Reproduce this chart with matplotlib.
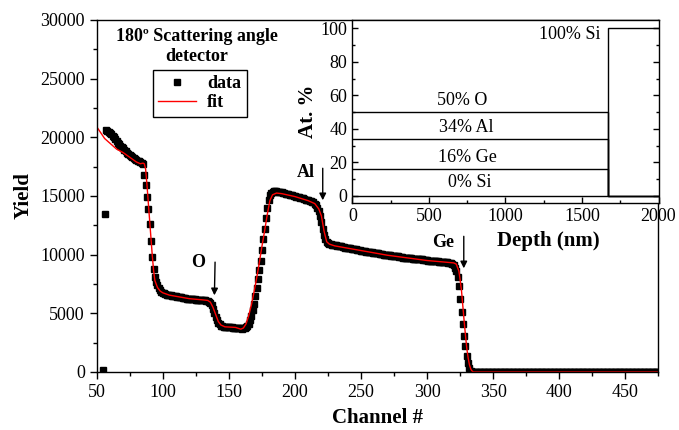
import numpy as np
from matplotlib import pyplot as plt
from matplotlib.ticker import MultipleLocator

plt.rcParams['font.family'] = ['Liberation Serif', 'DejaVu Serif']

# RBS spectrum, one value per channel from 55 to 475
data_yield = [
    200, 13500, 20600, 20550, 20450, 20350, 20250, 20150, 20000, 19850,
    19700, 19550, 19400, 19300, 19150, 19050, 18950, 18850, 18700, 18600,
    18500, 18400, 18300, 18200, 18150, 18100, 18000, 17950, 17900, 17850,
    17700, 16800, 15900, 14900, 13900, 12600, 11200, 9800, 8800, 8100,
    7700, 7400, 7150, 6950, 6850, 6750, 6700, 6650, 6600, 6600,
    6550, 6550, 6500, 6500, 6450, 6450, 6400, 6400, 6350, 6350,
    6300, 6300, 6300, 6250, 6250, 6250, 6200, 6200, 6200, 6200,
    6150, 6150, 6150, 6150, 6100, 6100, 6100, 6100, 6050, 6050,
    6000, 5900, 5700, 5400, 5050, 4700, 4400, 4200, 4050, 3950,
    3900, 3850, 3850, 3800, 3800, 3800, 3800, 3800, 3750, 3750,
    3750, 3750, 3750, 3750, 3750, 3700, 3750, 3750, 3800, 3900,
    4100, 4400, 4800, 5250, 5800, 6500, 7200, 7900, 8700, 9500,
    10400, 11300, 12200, 13100, 14000, 14700, 15050, 15250, 15350, 15400,
    15400, 15400, 15350, 15350, 15300, 15300, 15250, 15250, 15200, 15200,
    15150, 15100, 15100, 15050, 15000, 15000, 14950, 14950, 14900, 14850,
    14850, 14800, 14750, 14700, 14700, 14650, 14600, 14550, 14500, 14450,
    14350, 14200, 14000, 13700, 13300, 12800, 12200, 11700, 11300, 11100,
    11000, 10950, 10900, 10850, 10850, 10800, 10800, 10750, 10750, 10700,
    10700, 10650, 10650, 10600, 10600, 10600, 10550, 10550, 10500, 10500,
    10450, 10450, 10400, 10400, 10400, 10350, 10350, 10300, 10300, 10250,
    10250, 10250, 10200, 10200, 10150, 10150, 10150, 10100, 10100, 10050,
    10050, 10050, 10000, 10000, 10000, 9950, 9950, 9950, 9900, 9900,
    9900, 9850, 9850, 9850, 9800, 9800, 9800, 9750, 9750, 9750,
    9700, 9700, 9700, 9700, 9650, 9650, 9650, 9650, 9600, 9600,
    9600, 9600, 9550, 9550, 9550, 9550, 9500, 9500, 9500, 9500,
    9450, 9450, 9450, 9450, 9400, 9400, 9400, 9400, 9350, 9350,
    9350, 9300, 9300, 9250, 9200, 9100, 8900, 8600, 8100, 7300,
    6200, 5100, 4100, 3100, 2200, 1400, 800, 300, 100,
    0, 0, 0, 0, 0, 0, 0, 0, 0, 0, 0, 0, 0, 0, 0, 0, 0, 0, 0, 0,
    0, 0, 0, 0, 0, 0, 0, 0, 0, 0, 0, 0, 0, 0, 0, 0, 0, 0, 0, 0,
    0, 0, 0, 0, 0, 0, 0, 0, 0, 0, 0, 0, 0, 0, 0, 0, 0, 0, 0, 0,
    0, 0, 0, 0, 0, 0, 0, 0, 0, 0, 0, 0, 0, 0, 0, 0, 0, 0, 0, 0,
    0, 0, 0, 0, 0, 0, 0, 0, 0, 0, 0, 0, 0, 0, 0, 0, 0, 0, 0, 0,
    0, 0, 0, 0, 0, 0, 0, 0, 0, 0, 0, 0, 0, 0, 0, 0, 0, 0, 0, 0,
    0, 0, 0, 0, 0, 0, 0, 0, 0, 0, 0, 0, 0, 0, 0, 0, 0, 0, 0, 0,
    0, 0,
]
data_channel = np.arange(55, 55 + len(data_yield))

# simulated fit
fit_channel = [50, 53, 56, 60, 65, 70, 75, 80, 83, 85, 86, 87, 88, 89, 90,
               91, 92, 93, 94, 96, 98, 100, 105, 110, 120, 130, 134, 136, 138,
               140, 142, 144, 147, 155, 159, 161, 163, 165, 167, 169, 171, 173,
               175, 177, 179, 181, 183, 186, 190, 200, 210, 215, 218, 220, 222,
               224, 226, 230, 240, 250, 260, 270, 280, 290, 300, 310, 320, 322,
               324, 325, 326, 327, 328, 329, 330, 331, 332, 333, 334, 335, 475]
fit_yield = [20900, 20400, 19900, 19500, 19000, 18700, 18300, 17900, 17750,
             17800, 17750, 17300, 16000, 14500, 13000, 11500, 10000, 8700, 7800,
             7200, 6900, 6750, 6550, 6450, 6250, 6150, 6100, 5950, 5500, 4900,
             4300, 4000, 3850, 3800, 3650, 3750, 4100, 4800, 5700, 6800, 8000,
             9300, 10700, 12000, 13400, 14600, 15100, 15250, 15200, 14950, 14600,
             14350, 13900, 13300, 12000, 11100, 10900, 10750, 10550, 10350,
             10150, 9950, 9800, 9650, 9500, 9400, 9300, 9200, 8600, 7800, 6900,
             5600, 4300, 3100, 2000, 1200, 600, 250, 80, 0, 0]

# inset: depth profile
depth_edges = [0, 1670, 2000]
layer_O = [50, 0]
layer_Al = [34, 0]
layer_Ge = [16, 0]
layer_Si = [0, 100]

fig = plt.figure(figsize=(6.79, 4.30), dpi=100)
ax = fig.add_axes([0.1424, 0.1349, 0.8274, 0.8186])

ax.plot(data_channel, data_yield, 's', color='black', markersize=4.6, label='data')
ax.plot(fit_channel, fit_yield, color='red', lw=1, label='fit')

ax.set_xlim(50, 475)
ax.set_ylim(0, 30000)
ax.xaxis.set_major_locator(MultipleLocator(50))
ax.xaxis.set_minor_locator(MultipleLocator(25))
ax.yaxis.set_major_locator(MultipleLocator(5000))
ax.yaxis.set_minor_locator(MultipleLocator(2500))
ax.tick_params(which='both', direction='out', labelsize=13, width=1)
ax.tick_params(which='major', length=5)
ax.tick_params(which='minor', length=3)
for s in ax.spines.values():
    s.set_linewidth(1)
ax.set_xlabel('Channel #', fontsize=15, fontweight='bold', labelpad=5)
ax.set_ylabel('Yield', fontsize=15, fontweight='bold', labelpad=5)

ax.text(126, 27750, '180º Scattering angle\ndetector', ha='center', va='center',
        fontsize=13, fontweight='bold', multialignment='center')
ax.legend(loc='upper left', bbox_to_anchor=(0.2253, 0.8372), bbox_transform=fig.transFigure,
          borderaxespad=0, frameon=True, fancybox=False, edgecolor='black',
          prop={'size': 13, 'weight': 'bold'}, handlelength=2.1, handletextpad=0.6,
          labelspacing=0.1, borderpad=0.3, framealpha=1)

arrow = dict(arrowstyle='-|>', color='black', lw=1, mutation_scale=10)
ax.text(127, 9300, 'O', fontsize=13, fontweight='bold', ha='center', va='center')
ax.annotate('', xy=(139, 6300), xytext=(139.6, 9600), arrowprops=arrow)
ax.text(208, 17000, 'Al', fontsize=13, fontweight='bold', ha='center', va='center')
ax.annotate('', xy=(221, 14400), xytext=(221, 17600), arrowprops=arrow)
ax.text(312, 11050, 'Ge', fontsize=13, fontweight='bold', ha='center', va='center')
ax.annotate('', xy=(327.7, 8600), xytext=(327.7, 11800), arrowprops=arrow)

# inset
ins = fig.add_axes([0.5189, 0.5272, 0.4510, 0.4263])
for layer in [layer_O, layer_Al, layer_Ge, layer_Si]:
    ins.stairs(layer, depth_edges, baseline=None, color='black', lw=1)
ins.set_xlim(0, 2000)
ins.set_ylim(-4.5, 105)
ins.xaxis.set_major_locator(MultipleLocator(500))
ins.xaxis.set_minor_locator(MultipleLocator(250))
ins.yaxis.set_major_locator(MultipleLocator(20))
ins.yaxis.set_minor_locator(MultipleLocator(10))
ins.tick_params(which='both', direction='in', labelsize=13, width=1, right=True)
ins.tick_params(which='major', length=4)
ins.tick_params(which='minor', length=2)
for s in ins.spines.values():
    s.set_linewidth(1)
ins.set_xlabel('Depth (nm)', fontsize=15, fontweight='bold', labelpad=4, x=0.64)
ins.set_ylabel('At. %', fontsize=15, fontweight='bold', labelpad=2)

ins.text(1619, 96.6, '100% Si', fontsize=13, ha='right', va='center')
ins.text(715, 56.7, '50% O', fontsize=13, ha='center', va='center')
ins.text(742, 40.7, '34% Al', fontsize=13, ha='center', va='center')
ins.text(751, 22.8, '16% Ge', fontsize=13, ha='center', va='center')
ins.text(768, 7.9, '0% Si', fontsize=13, ha='center', va='center')

plt.savefig('out.png', dpi=100)
